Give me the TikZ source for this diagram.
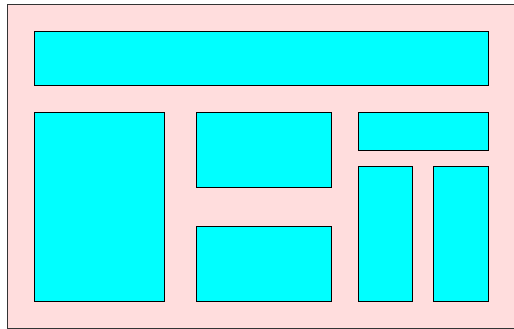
\documentclass[tikz,border=0pt]{standalone}
\definecolor{bgpink}{RGB}{255,221,221}
\definecolor{panelcyan}{RGB}{0,255,255}
\tikzset{panel/.style={draw=black,fill=panelcyan,line width=0.8pt}}
\begin{document}
\begin{tikzpicture}[x=1pt,y=-1pt]
\useasboundingbox (0,0) rectangle (514,329);
\draw[fill=bgpink,line width=0.9pt,draw=black!80] (7,4.5) rectangle (520,328.5);
\node[panel,minimum width=454pt,minimum height=54pt,inner sep=0pt,anchor=north west] (top) at (34,31) {};
\node[panel,minimum width=130pt,minimum height=189pt,inner sep=0pt,anchor=north west] (bigleft) at (34,112) {};
\node[panel,minimum width=135pt,minimum height=75pt,inner sep=0pt,anchor=north west] (midtop) at (196,112) {};
\node[panel,minimum width=135pt,minimum height=75pt,inner sep=0pt,anchor=north west] (midbot) at (196,226) {};
\node[panel,minimum width=130pt,minimum height=38pt,inner sep=0pt,anchor=north west] (righttop) at (358,112) {};
\node[panel,minimum width=54pt,minimum height=135pt,inner sep=0pt,anchor=north west] (rightl) at (358,166) {};
\node[panel,minimum width=55pt,minimum height=135pt,inner sep=0pt,anchor=north west] (rightr) at (433,166) {};
\end{tikzpicture}
\end{document}
